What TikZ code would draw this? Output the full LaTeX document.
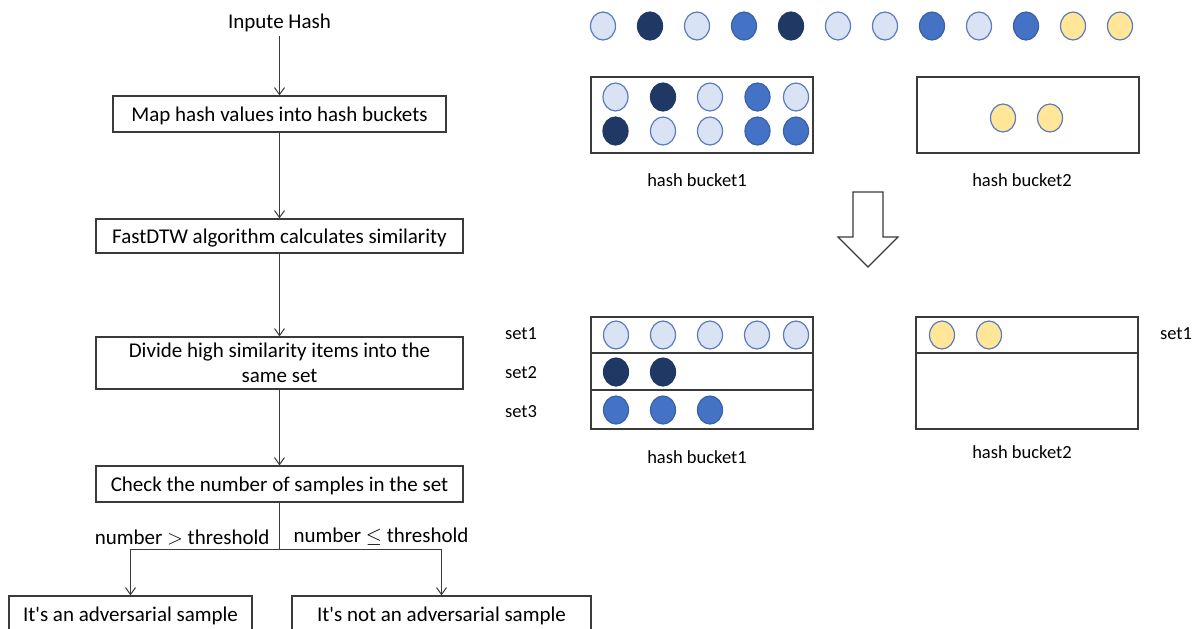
\documentclass[tikz,border=0pt]{standalone}
\usepackage{fontspec}
\setmainfont{Carlito}[Ligatures=TeXOff]
\usetikzlibrary{arrows.meta,shapes.geometric}
\definecolor{lightc}{HTML}{DAE3F3}
\definecolor{darkc}{HTML}{203864}
\definecolor{medc}{HTML}{4472C4}
\definecolor{yelc}{HTML}{FFE699}
\definecolor{rimc}{HTML}{5B7BBE}
\definecolor{linec}{HTML}{3A3A3A}
\begin{document}
\begin{tikzpicture}[x=1pt,y=-1pt,
  flowtxt/.style={font=\fontsize{21}{25}\selectfont, text=black},
  lbl/.style={font=\fontsize{18.5}{22}\selectfont, text=black},
  box/.style={draw=linec, line width=1.2pt, fill=white, inner sep=0pt, align=center, flowtxt},
  oneline/.style={text height=20pt, text depth=5pt},
  bucket/.style={draw=linec, line width=1.3pt, inner sep=0pt},
  arr/.style={draw=linec, line width=1pt, -{Straight Barb[length=7pt,width=10pt]}},
  conn/.style={draw=linec, line width=1pt},
  dot/.style={ellipse, minimum width=25pt, minimum height=28pt, inner sep=0pt, line width=1.2pt},
  lt/.style={dot, fill=lightc, draw=rimc},
  dk/.style={dot, fill=darkc, draw=darkc},
  md/.style={dot, fill=medc, draw=medc!85!black},
  yl/.style={dot, fill=yelc, draw=rimc}]
\path[use as bounding box, fill=white] (0,0) rectangle (1192,629);
\clip (0,0) rectangle (1192,629);

% ---------- flowchart ----------
\node[flowtxt] (inp) at (279.5,23) {Inpute Hash};
\node[box, oneline, minimum width=333pt, minimum height=36pt] (map) at (279.5,114) {Map hash values into hash buckets};
\node[box, oneline, minimum width=367pt, minimum height=34pt] (dtw) at (279.5,236) {FastDTW algorithm calculates similarity};
\node[box, minimum width=367pt, minimum height=52pt] (div) at (279.5,363) {Divide high similarity items into the\\same set};
\node[box, oneline, minimum width=367pt, minimum height=36pt] (chk) at (279.5,484) {Check the number of samples in the set};
\node[box, oneline, minimum width=243pt, minimum height=36pt] (adv) at (130.5,614) {It's an adversarial sample};
\node[box, oneline, minimum width=299pt, minimum height=36pt] (nadv) at (441.5,614) {It's not an adversarial sample};

\draw[arr] (inp) -- (map);
\draw[arr] (map) -- (dtw);
\draw[arr] (dtw) -- (div);
\draw[arr] (div) -- (chk);
\coordinate (j) at (279.5,549);
\coordinate (jl) at (130.5,549);
\coordinate (jr) at (441.5,549);
\draw[conn] (chk) -- (j);
\draw[conn] (jl) -- (jr);
\draw[arr] (jl) -- (adv);
\draw[arr] (jr) -- (nadv);
\node[flowtxt, anchor=east] (gt) at (273,537) {number $>$ threshold};
\node[flowtxt, anchor=west] (le) at (290,537) {number $\leq$ threshold};

% ---------- top row ----------
\foreach \s [count=\i] in {lt,dk,lt,md,dk,lt,lt,md,lt,md,yl,yl}
  \node[\s] (r\i) at ({603+47*(\i-1)},26) {};

% ---------- top buckets ----------
\node[bucket, minimum width=222pt, minimum height=76pt] (b1) at (702,115) {};
\node[bucket, minimum width=222pt, minimum height=76pt] (b2) at (1028,115) {};
\foreach \s/\x [count=\i] in {lt/615.5,dk/663,lt/710,md/757.5,lt/796}
  \node[\s] (ba\i) at (\x,97) {};
\foreach \s/\x [count=\i] in {dk/615.5,lt/663,lt/710,md/757.5,md/796}
  \node[\s] (bb\i) at (\x,131) {};
\node[yl] (bc1) at (1003,118) {};
\node[yl] (bc2) at (1050,118) {};
\node[lbl] (l1) at (697,180) {hash bucket1};
\node[lbl] (l2) at (1022,180) {hash bucket2};

% ---------- hollow arrow ----------
\draw[draw=linec, line width=1.1pt, fill=white, line join=miter]
  (853,192) -- (883,192) -- (883,237) -- (898,237) -- (868,267) -- (838,237) -- (853,237) -- cycle;

% ---------- bottom buckets ----------
\node[bucket, minimum width=222pt, minimum height=112pt] (b3) at (702,373) {};
\node[bucket, minimum width=222pt, minimum height=112pt] (b4) at (1027,373) {};
\draw[bucket] (b3.west |- 0,353) -- (b3.east |- 0,353);
\draw[bucket] (b3.west |- 0,390) -- (b3.east |- 0,390);
\draw[bucket] (b4.west |- 0,353) -- (b4.east |- 0,353);
\foreach \x [count=\i] in {616,663,710,757,796}
  \node[lt] (s1\i) at (\x,335) {};
\foreach \x [count=\i] in {616,663}
  \node[dk] (s2\i) at (\x,372) {};
\foreach \x [count=\i] in {616,663,710}
  \node[md] (s3\i) at (\x,410) {};
\node[yl] (t1) at (942,335) {};
\node[yl] (t2) at (989,335) {};
\node[lbl] (set1) at (521,334) {set1};
\node[lbl] (set2) at (521,373) {set2};
\node[lbl] (set3) at (521,412) {set3};
\node[lbl] (set1r) at (1176,334) {set1};
\node[lbl] (l3) at (697,457) {hash bucket1};
\node[lbl] (l4) at (1022,452) {hash bucket2};
\end{tikzpicture}
\end{document}
